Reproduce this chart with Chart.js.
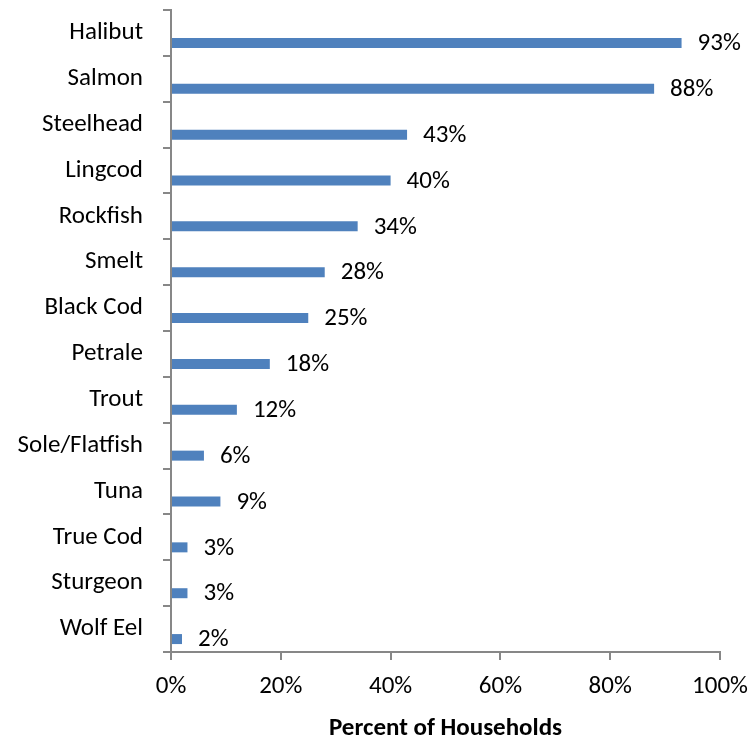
<!DOCTYPE html>
<html>
<head>
<meta charset="utf-8">
<script src="https://cdn.jsdelivr.net/npm/chart.js@4/dist/chart.umd.min.js"></script>
<style>
  html, body { margin: 0; padding: 0; background: #fff; }
  #wrap { width: 751px; height: 738px; }
</style>
</head>
<body>
<div id="wrap"><canvas id="c" width="751" height="738"></canvas></div>
<script>
const categories = ["Halibut", "Salmon", "Steelhead", "Lingcod", "Rockfish", "Smelt", "Black Cod", "Petrale", "Trout", "Sole/Flatfish", "Tuna", "True Cod", "Sturgeon", "Wolf Eel"];
const percentValues = [93, 88, 43, 40, 34, 28, 25, 18, 12, 6, 9, 3, 3, 2];
const spacerValues = categories.map(() => null);
const xTickValues = [0, 20, 40, 60, 80, 100];
const axisTitle = "Percent of Households";

const FONT = "Carlito, Lato, 'Open Sans', sans-serif";
const FS = 25;
const AXIS_GRAY = '#878787';

const valueLabels = {
  id: 'valueLabels',
  afterDatasetsDraw(chart) {
    const ctx = chart.ctx;
    const meta = chart.getDatasetMeta(1);
    ctx.save();
    ctx.font = FS + "px " + FONT;
    ctx.fillStyle = '#000';
    ctx.textAlign = 'left';
    ctx.textBaseline = 'middle';
    meta.data.forEach((el, i) => {
      ctx.fillText(percentValues[i] + '%', el.x + 16, el.y + 1);
    });
    ctx.restore();
  }
};

new Chart(document.getElementById('c'), {
  type: 'bar',
  data: {
    labels: categories,
    datasets: [
      { label: 'spacer', data: spacerValues, backgroundColor: 'rgba(0,0,0,0)' },
      { label: 'Percent', data: percentValues, backgroundColor: '#4F81BD', borderWidth: 0 }
    ]
  },
  options: {
    indexAxis: 'y',
    responsive: false,
    animation: false,
    devicePixelRatio: 1,
    layout: { padding: { top: 10, right: 31, bottom: 0, left: 0 } },
    datasets: { bar: { categoryPercentage: 0.872, barPercentage: 0.5 } },
    plugins: { legend: { display: false }, tooltip: { enabled: false } },
    scales: {
      x: {
        type: 'linear',
        min: 0, max: 100,
        afterBuildTicks(scale) { scale.ticks = xTickValues.map(v => ({ value: v })); },
        afterFit(scale) { scale.height = 86; scale.paddingLeft = 0; scale.paddingRight = 0; },
        border: { color: AXIS_GRAY, width: 2 },
        grid: { drawOnChartArea: false, drawTicks: true, tickLength: 8, color: AXIS_GRAY, lineWidth: 2 },
        ticks: { color: '#000', font: { family: FONT, size: FS }, padding: 12, maxRotation: 0,
                 callback: v => v + '%' },
        title: { display: true, text: axisTitle, color: '#000',
                 font: { family: FONT, size: FS, weight: 'bold', lineHeight: 1 },
                 padding: { top: 0, bottom: -3 } }
      },
      y: {
        type: 'category',
        offset: true,
        afterFit(scale) { scale.width = 171; scale.paddingTop = 0; scale.paddingBottom = 0; },
        border: { color: AXIS_GRAY, width: 2 },
        grid: { offset: true, drawOnChartArea: false, drawTicks: true, tickLength: 8, color: AXIS_GRAY, lineWidth: 2 },
        ticks: { color: '#000', font: { family: FONT, size: FS }, padding: 20, autoSkip: false }
      }
    }
  },
  plugins: [valueLabels]
});
</script>
</body>
</html>
